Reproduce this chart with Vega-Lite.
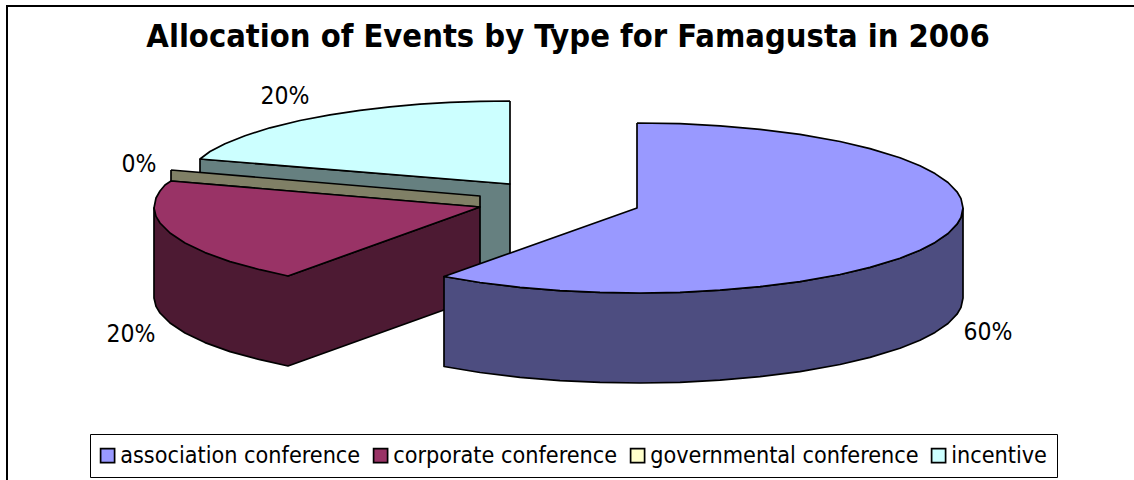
{"$schema":"https://vega.github.io/schema/vega-lite/v6.json","width":1134,"height":480,"autosize":"none","padding":0,"background":"white","config":{"view":{"stroke":null},"font":"DejaVu Sans Condensed"},
"title":{"text":"Allocation of Events by Type for Famagusta in 2006","anchor":"middle","frame":"group","offset":0,"dy":79,"dx":1,"baseline":"alphabetic","font":"DejaVu Sans Condensed","fontSize":32.4,"fontWeight":"bold","color":"black"},
"datasets":{"frame":[{"x":7,"y":6,"x2":1150,"y2":500}],
"pieces":[
{"piece":"incentive wall","seq":1,"x":200,"y":159},{"piece":"incentive wall","seq":2,"x":510,"y":184},{"piece":"incentive wall","seq":3,"x":510,"y":274},{"piece":"incentive wall","seq":4,"x":200,"y":249},{"piece":"incentive wall","seq":5,"x":200,"y":159},
{"piece":"incentive","seq":1,"x":510,"y":101},{"piece":"incentive","seq":2,"x":480,"y":101.4},{"piece":"incentive","seq":3,"x":450,"y":102.4},{"piece":"incentive","seq":4,"x":420,"y":104.2},{"piece":"incentive","seq":5,"x":390,"y":106.8},{"piece":"incentive","seq":6,"x":360,"y":110.3},{"piece":"incentive","seq":7,"x":330,"y":114.8},{"piece":"incentive","seq":8,"x":300,"y":120.5},{"piece":"incentive","seq":9,"x":270,"y":127.8},{"piece":"incentive","seq":10,"x":245,"y":135.7},{"piece":"incentive","seq":11,"x":225,"y":143.7},{"piece":"incentive","seq":12,"x":210,"y":151.5},{"piece":"incentive","seq":13,"x":200,"y":159},{"piece":"incentive","seq":14,"x":510,"y":184},{"piece":"incentive","seq":15,"x":510,"y":101},
{"piece":"governmental conference wall","seq":1,"x":171,"y":170},{"piece":"governmental conference wall","seq":2,"x":480,"y":196},{"piece":"governmental conference wall","seq":3,"x":480,"y":207},{"piece":"governmental conference wall","seq":4,"x":171,"y":181},{"piece":"governmental conference wall","seq":5,"x":171,"y":170},
{"piece":"corporate conference wall","seq":1,"x":288,"y":276},{"piece":"corporate conference wall","seq":2,"x":480,"y":207},{"piece":"corporate conference wall","seq":3,"x":480,"y":297},{"piece":"corporate conference wall","seq":4,"x":288,"y":366},{"piece":"corporate conference wall","seq":5,"x":260,"y":359.7},{"piece":"corporate conference wall","seq":6,"x":230,"y":351.6},{"piece":"corporate conference wall","seq":7,"x":205,"y":342.6},{"piece":"corporate conference wall","seq":8,"x":185,"y":333},{"piece":"corporate conference wall","seq":9,"x":170,"y":323},{"piece":"corporate conference wall","seq":10,"x":160,"y":313},{"piece":"corporate conference wall","seq":11,"x":156,"y":306.4},{"piece":"corporate conference wall","seq":12,"x":154,"y":298},{"piece":"corporate conference wall","seq":13,"x":154,"y":208},{"piece":"corporate conference wall","seq":14,"x":288,"y":276},
{"piece":"corporate conference","seq":1,"x":480,"y":207},{"piece":"corporate conference","seq":2,"x":171,"y":181},{"piece":"corporate conference","seq":3,"x":165,"y":185},{"piece":"corporate conference","seq":4,"x":160,"y":191},{"piece":"corporate conference","seq":5,"x":156,"y":198},{"piece":"corporate conference","seq":6,"x":154,"y":208},{"piece":"corporate conference","seq":7,"x":156,"y":216.4},{"piece":"corporate conference","seq":8,"x":160,"y":223},{"piece":"corporate conference","seq":9,"x":170,"y":233},{"piece":"corporate conference","seq":10,"x":185,"y":243},{"piece":"corporate conference","seq":11,"x":205,"y":252.6},{"piece":"corporate conference","seq":12,"x":230,"y":261.6},{"piece":"corporate conference","seq":13,"x":260,"y":269.7},{"piece":"corporate conference","seq":14,"x":288,"y":276},{"piece":"corporate conference","seq":15,"x":480,"y":207},
{"piece":"association conference wall","seq":1,"x":963,"y":208},{"piece":"association conference wall","seq":2,"x":961,"y":217.4},{"piece":"association conference wall","seq":3,"x":957,"y":224.2},{"piece":"association conference wall","seq":4,"x":948,"y":233.5},{"piece":"association conference wall","seq":5,"x":935,"y":242.4},{"piece":"association conference wall","seq":6,"x":920,"y":250.2},{"piece":"association conference wall","seq":7,"x":900,"y":258.2},{"piece":"association conference wall","seq":8,"x":870,"y":267.4},{"piece":"association conference wall","seq":9,"x":840,"y":274.5},{"piece":"association conference wall","seq":10,"x":800,"y":281.6},{"piece":"association conference wall","seq":11,"x":760,"y":286.7},{"piece":"association conference wall","seq":12,"x":720,"y":290.2},{"piece":"association conference wall","seq":13,"x":680,"y":292.3},{"piece":"association conference wall","seq":14,"x":640,"y":293},{"piece":"association conference wall","seq":15,"x":600,"y":292.4},{"piece":"association conference wall","seq":16,"x":560,"y":290.6},{"piece":"association conference wall","seq":17,"x":520,"y":287.3},{"piece":"association conference wall","seq":18,"x":480,"y":282.5},{"piece":"association conference wall","seq":19,"x":444,"y":276.5},{"piece":"association conference wall","seq":20,"x":444,"y":366.5},{"piece":"association conference wall","seq":21,"x":480,"y":372.5},{"piece":"association conference wall","seq":22,"x":520,"y":377.3},{"piece":"association conference wall","seq":23,"x":560,"y":380.6},{"piece":"association conference wall","seq":24,"x":600,"y":382.4},{"piece":"association conference wall","seq":25,"x":640,"y":383},{"piece":"association conference wall","seq":26,"x":680,"y":382.3},{"piece":"association conference wall","seq":27,"x":720,"y":380.2},{"piece":"association conference wall","seq":28,"x":760,"y":376.7},{"piece":"association conference wall","seq":29,"x":800,"y":371.6},{"piece":"association conference wall","seq":30,"x":840,"y":364.5},{"piece":"association conference wall","seq":31,"x":870,"y":357.4},{"piece":"association conference wall","seq":32,"x":900,"y":348.2},{"piece":"association conference wall","seq":33,"x":920,"y":340.2},{"piece":"association conference wall","seq":34,"x":935,"y":332.4},{"piece":"association conference wall","seq":35,"x":948,"y":323.5},{"piece":"association conference wall","seq":36,"x":957,"y":314.2},{"piece":"association conference wall","seq":37,"x":961,"y":307.4},{"piece":"association conference wall","seq":38,"x":963,"y":298},{"piece":"association conference wall","seq":39,"x":963,"y":208},
{"piece":"association conference","seq":1,"x":637,"y":123},{"piece":"association conference","seq":2,"x":680,"y":123.7},{"piece":"association conference","seq":3,"x":720,"y":125.8},{"piece":"association conference","seq":4,"x":760,"y":129.3},{"piece":"association conference","seq":5,"x":800,"y":134.4},{"piece":"association conference","seq":6,"x":840,"y":141.5},{"piece":"association conference","seq":7,"x":870,"y":148.6},{"piece":"association conference","seq":8,"x":900,"y":157.8},{"piece":"association conference","seq":9,"x":920,"y":165.8},{"piece":"association conference","seq":10,"x":935,"y":173.6},{"piece":"association conference","seq":11,"x":948,"y":182.5},{"piece":"association conference","seq":12,"x":957,"y":191.8},{"piece":"association conference","seq":13,"x":961,"y":198.6},{"piece":"association conference","seq":14,"x":963,"y":208},{"piece":"association conference","seq":15,"x":961,"y":217.4},{"piece":"association conference","seq":16,"x":957,"y":224.2},{"piece":"association conference","seq":17,"x":948,"y":233.5},{"piece":"association conference","seq":18,"x":935,"y":242.4},{"piece":"association conference","seq":19,"x":920,"y":250.2},{"piece":"association conference","seq":20,"x":900,"y":258.2},{"piece":"association conference","seq":21,"x":870,"y":267.4},{"piece":"association conference","seq":22,"x":840,"y":274.5},{"piece":"association conference","seq":23,"x":800,"y":281.6},{"piece":"association conference","seq":24,"x":760,"y":286.7},{"piece":"association conference","seq":25,"x":720,"y":290.2},{"piece":"association conference","seq":26,"x":680,"y":292.3},{"piece":"association conference","seq":27,"x":640,"y":293},{"piece":"association conference","seq":28,"x":600,"y":292.4},{"piece":"association conference","seq":29,"x":560,"y":290.6},{"piece":"association conference","seq":30,"x":520,"y":287.3},{"piece":"association conference","seq":31,"x":480,"y":282.5},{"piece":"association conference","seq":32,"x":444,"y":276.5},{"piece":"association conference","seq":33,"x":637,"y":208},{"piece":"association conference","seq":34,"x":637,"y":123}
],
"shares":[{"type":"association conference","label":"60%","x":988,"y":333},{"type":"corporate conference","label":"20%","x":131,"y":335},{"type":"governmental conference","label":"0%","x":139,"y":165},{"type":"incentive","label":"20%","x":285,"y":97}]},
"layer":[
{"data":{"name":"frame"},"mark":{"type":"rect","fill":"white","stroke":"black","strokeWidth":2,"clip":true},"encoding":{"x":{"field":"x","type":"quantitative","scale":{"domain":[0,1134]},"axis":null},"y":{"field":"y","type":"quantitative","scale":{"domain":[480,0]},"axis":null},"x2":{"field":"x2"},"y2":{"field":"y2"}}},
{"data":{"name":"pieces"},"mark":{"type":"line","stroke":"black","strokeWidth":1.7,"strokeJoin":"round","interpolate":"linear"},"encoding":{"x":{"field":"x","type":"quantitative","scale":{"domain":[0,1134]},"axis":null},"y":{"field":"y","type":"quantitative","scale":{"domain":[480,0]},"axis":null},"order":{"field":"seq","type":"quantitative"},"detail":{"field":"piece"},
"fill":{"field":"piece","type":"nominal","sort":null,"scale":{"domain":["association conference","corporate conference","governmental conference","incentive","association conference wall","corporate conference wall","governmental conference wall","incentive wall"],"range":["#9999FF","#993366","#FFFFCC","#CCFFFF","#4D4D80","#4D1A33","#808066","#668080"]},"legend":{"values":["association conference","corporate conference","governmental conference","incentive"],"title":null,"orient":"none","legendX":90,"legendY":434,"direction":"horizontal","columns":4,"symbolType":"square","symbolSize":196,"symbolStrokeColor":"black","symbolStrokeWidth":1.7,"symbolOffset":-4,"labelFont":"DejaVu Sans Condensed","labelFontSize":23.2,"labelColor":"black","labelLimit":400,"columnPadding":9,"padding":10,"strokeColor":"black","fillColor":"white","symbolOpacity":1,"labelOffset":1}}}},
{"data":{"name":"shares"},"mark":{"type":"text","font":"DejaVu Sans Condensed","fontSize":24.5,"color":"black","align":"center","baseline":"middle"},"encoding":{"x":{"field":"x","type":"quantitative","scale":{"domain":[0,1134]},"axis":null},"y":{"field":"y","type":"quantitative","scale":{"domain":[480,0]},"axis":null},"text":{"field":"label"}}}
]}
